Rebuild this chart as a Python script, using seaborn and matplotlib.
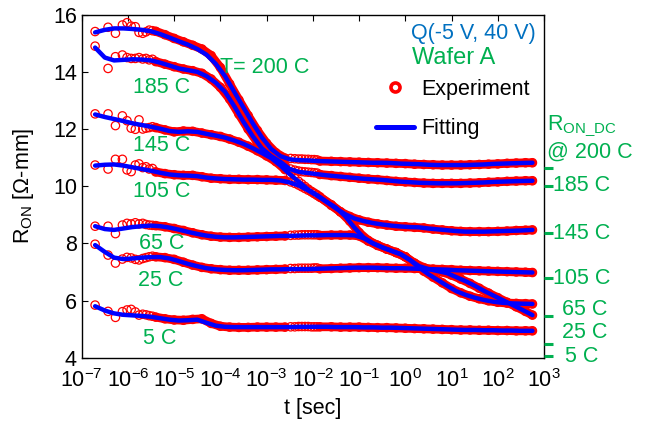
import numpy as np
import pandas as pd
import matplotlib
matplotlib.use("Agg")
import matplotlib.pyplot as plt
import matplotlib.ticker as mticker
from matplotlib.lines import Line2D
import seaborn as sns

# ---------------------------------------------------------------- data
TEMPS = ["200", "185", "145", "105", "65", "25", "5"]

# fitted recovery transients, log10(t / s) grid
LOG_T_FIT = [-6.71, -6.5, -6.3, -6.1, -5.9, -5.7, -5.5, -5.3, -5.1, -4.9, -4.7, -4.5,
             -4.3, -4.1, -3.9, -3.7, -3.5, -3.3, -3.1, -2.9, -2.7, -2.5, -2.3, -2.1,
             -1.9, -1.7, -1.5, -1.3, -1.1, -0.9, -0.7, -0.5, -0.3, -0.1, 0.1, 0.3,
             0.5, 0.7, 0.9, 1.1, 1.3, 1.5, 1.7, 1.9, 2.1, 2.3, 2.5, 2.75]
FIT_200 = [15.38, 15.47, 15.52, 15.52, 15.50, 15.47, 15.42, 15.32, 15.20, 15.07, 14.95, 14.80,
           14.60, 14.28, 13.85, 13.30, 12.75, 12.20, 11.70, 11.30, 11.05, 10.94, 10.91, 10.90,
           10.88, 10.87, 10.86, 10.85, 10.84, 10.83, 10.82, 10.82, 10.81, 10.79, 10.78, 10.77,
           10.75, 10.74, 10.74, 10.74, 10.74, 10.75, 10.76, 10.78, 10.79, 10.80, 10.81, 10.82]
FIT_185 = [14.85, 14.50, 14.40, 14.42, 14.44, 14.43, 14.40, 14.32, 14.22, 14.12, 14.06, 14.00,
           13.85, 13.62, 13.30, 12.80, 12.25, 11.75, 11.32, 11.05, 10.85, 10.60, 10.50, 10.46,
           10.42, 10.38, 10.35, 10.32, 10.29, 10.26, 10.24, 10.22, 10.19, 10.16, 10.14, 10.12,
           10.11, 10.10, 10.10, 10.10, 10.11, 10.12, 10.13, 10.15, 10.16, 10.17, 10.18, 10.19]
FIT_145 = [12.51, 12.42, 12.35, 12.28, 12.20, 12.14, 12.08, 12.01, 11.93, 11.90, 11.92, 11.90,
           11.83, 11.77, 11.70, 11.60, 11.48, 11.33, 11.16, 10.98, 10.72, 10.42, 10.15, 9.88,
           9.68, 9.45, 9.22, 9.02, 8.87, 8.78, 8.71, 8.66, 8.62, 8.59, 8.57, 8.56,
           8.52, 8.49, 8.46, 8.43, 8.41, 8.41, 8.41, 8.42, 8.43, 8.44, 8.45, 8.47]
FIT_105 = [10.72, 10.75, 10.76, 10.72, 10.66, 10.60, 10.54, 10.47, 10.41, 10.38, 10.37, 10.35,
           10.30, 10.27, 10.25, 10.24, 10.23, 10.23, 10.22, 10.22, 10.20, 10.13, 10.02, 9.85,
           9.66, 9.45, 9.25, 8.95, 8.55, 8.20, 8.00, 7.86, 7.74, 7.62, 7.42, 7.15,
           6.92, 6.72, 6.52, 6.33, 6.20, 6.10, 6.02, 5.96, 5.92, 5.90, 5.89, 5.88]
FIT_65 = [8.60, 8.50, 8.47, 8.52, 8.57, 8.60, 8.62, 8.60, 8.55, 8.48, 8.40, 8.33,
          8.27, 8.23, 8.21, 8.21, 8.22, 8.23, 8.24, 8.25, 8.26, 8.26, 8.27, 8.28,
          8.28, 8.29, 8.29, 8.29, 8.28, 8.18, 8.00, 7.86, 7.74, 7.62, 7.42, 7.20,
          7.10, 7.03, 6.96, 6.82, 6.68, 6.52, 6.34, 6.18, 6.02, 5.86, 5.70, 5.49]
FIT_25 = [7.94, 7.70, 7.50, 7.45, 7.47, 7.50, 7.52, 7.52, 7.47, 7.38, 7.28, 7.20,
          7.13, 7.09, 7.07, 7.06, 7.06, 7.07, 7.08, 7.09, 7.09, 7.10, 7.10, 7.10,
          7.11, 7.12, 7.13, 7.14, 7.15, 7.15, 7.15, 7.14, 7.13, 7.13, 7.12, 7.11,
          7.10, 7.09, 7.08, 7.06, 7.05, 7.04, 7.03, 7.02, 7.01, 7.00, 6.99, 6.98]
FIT_5 = [5.80, 5.65, 5.55, 5.50, 5.48, 5.46, 5.43, 5.38, 5.33, 5.30, 5.31, 5.33,
         5.22, 5.12, 5.08, 5.07, 5.07, 5.07, 5.07, 5.07, 5.07, 5.07, 5.08, 5.08,
         5.08, 5.08, 5.07, 5.07, 5.07, 5.06, 5.06, 5.05, 5.05, 5.04, 5.03, 5.02,
         5.01, 5.00, 4.99, 4.98, 4.97, 4.97, 4.96, 4.96, 4.95, 4.95, 4.94, 4.94]

# measured transients: sparse first samples
LOG_T_EXP_EARLY = [-6.71, -6.43, -6.27, -6.12, -6.02, -5.93, -5.84, -5.76, -5.68, -5.61, -5.54, -5.47]
EXP_EARLY_200 = [15.41, 15.56, 15.35, 15.64, 15.72, 15.60, 15.58, 15.38, 15.35, 15.40, 15.46, 15.44]
EXP_EARLY_185 = [14.90, 14.12, 14.53, 14.59, 14.50, 14.47, 14.47, 14.50, 14.45, 14.47, 14.42, 14.44]
EXP_EARLY_145 = [12.53, 12.53, 12.12, 12.46, 12.29, 12.03, 11.99, 12.32, 12.00, 12.03, 12.05, 12.08]
EXP_EARLY_105 = [10.74, 10.60, 10.94, 10.94, 10.57, 10.51, 10.74, 10.78, 10.65, 10.68, 10.60, 10.62]
EXP_EARLY_65 = [8.60, 8.60, 8.34, 8.64, 8.70, 8.68, 8.72, 8.68, 8.70, 8.66, 8.64, 8.63]
EXP_EARLY_25 = [7.97, 7.59, 7.31, 7.45, 7.51, 7.49, 7.44, 7.42, 7.47, 7.50, 7.53, 7.55]
EXP_EARLY_5 = [5.84, 5.62, 5.41, 5.61, 5.67, 5.69, 5.60, 5.49, 5.52, 5.50, 5.47, 5.45]

# measured transients: first dense record
LOG_T_EXP_D1 = [-5.4, -5.2, -5.0, -4.8, -4.6, -4.4, -4.2, -4.0, -3.8, -3.6, -3.4, -3.2, -3.0, -2.8, -2.6]
EXP_D1_200 = [15.42, 15.30, 15.17, 15.05, 14.93, 14.80, 14.57, 14.15, 13.58, 13.02, 12.47, 11.95, 11.50, 11.17, 10.98]
EXP_D1_185 = [14.36, 14.27, 14.18, 14.10, 14.04, 13.95, 13.75, 13.46, 13.05, 12.52, 12.00, 11.53, 11.18, 10.95, 10.72]
EXP_D1_145 = [12.05, 11.97, 11.90, 11.93, 11.92, 11.86, 11.80, 11.74, 11.65, 11.54, 11.40, 11.24, 11.06, 10.86, 10.58]
EXP_D1_105 = [10.50, 10.44, 10.40, 10.38, 10.38, 10.33, 10.28, 10.26, 10.24, 10.24, 10.23, 10.23, 10.22, 10.21, 10.20]
EXP_D1_65 = [8.62, 8.58, 8.52, 8.45, 8.37, 8.30, 8.25, 8.22, 8.21, 8.21, 8.22, 8.23, 8.24, 8.25, 8.26]
EXP_D1_25 = [7.53, 7.50, 7.44, 7.34, 7.24, 7.16, 7.11, 7.08, 7.06, 7.06, 7.06, 7.07, 7.08, 7.09, 7.10]
EXP_D1_5 = [5.42, 5.36, 5.32, 5.31, 5.34, 5.36, 5.20, 5.10, 5.07, 5.06, 5.06, 5.07, 5.07, 5.07, 5.07]

# measured transients: sparse samples between the two records
LOG_T_EXP_MID = [-2.48, -2.39, -2.31, -2.24, -2.17, -2.10, -2.03, -1.97, -1.91]
EXP_MID_200 = [10.97, 10.96, 10.95, 10.95, 10.94, 10.94, 10.93, 10.93, 10.92]
EXP_MID_185 = [10.60, 10.56, 10.53, 10.51, 10.50, 10.49, 10.48, 10.47, 10.46]
EXP_MID_145 = [10.40, 10.28, 10.17, 10.08, 9.99, 9.90, 9.82, 9.76, 9.70]
EXP_MID_105 = [10.15, 10.10, 10.04, 9.98, 9.92, 9.86, 9.80, 9.74, 9.68]
EXP_MID_65 = [8.28, 8.29, 8.29, 8.30, 8.30, 8.30, 8.30, 8.30, 8.30]
EXP_MID_25 = [7.12, 7.12, 7.13, 7.13, 7.13, 7.13, 7.13, 7.14, 7.14]
EXP_MID_5 = [5.08, 5.08, 5.09, 5.09, 5.09, 5.09, 5.08, 5.08, 5.08]

# measured transients: second dense record
LOG_T_EXP_D2 = [-1.85, -1.6, -1.4, -1.2, -1.0, -0.8, -0.6, -0.4, -0.2, 0.0, 0.2, 0.4,
                0.6, 0.8, 1.0, 1.2, 1.4, 1.6, 1.8, 2.0, 2.2, 2.4, 2.6, 2.75]
EXP_D2_200 = [10.88, 10.87, 10.86, 10.85, 10.84, 10.83, 10.82, 10.81, 10.80, 10.79, 10.77, 10.76,
              10.75, 10.74, 10.74, 10.74, 10.75, 10.76, 10.77, 10.78, 10.80, 10.81, 10.82, 10.82]
EXP_D2_185 = [10.41, 10.37, 10.34, 10.31, 10.28, 10.25, 10.23, 10.20, 10.17, 10.15, 10.13, 10.11,
              10.10, 10.10, 10.10, 10.10, 10.11, 10.12, 10.14, 10.15, 10.17, 10.18, 10.19, 10.19]
EXP_D2_145 = [9.63, 9.33, 9.10, 8.94, 8.82, 8.74, 8.68, 8.64, 8.60, 8.58, 8.56, 8.54,
              8.50, 8.47, 8.44, 8.42, 8.41, 8.41, 8.41, 8.42, 8.43, 8.45, 8.46, 8.47]
EXP_D2_105 = [9.62, 9.35, 9.10, 8.78, 8.38, 8.10, 7.93, 7.80, 7.68, 7.53, 7.28, 7.03,
              6.82, 6.62, 6.42, 6.27, 6.15, 6.06, 5.99, 5.94, 5.91, 5.90, 5.89, 5.88]
EXP_D2_65 = [8.28, 8.29, 8.29, 8.29, 8.26, 8.08, 7.93, 7.80, 7.68, 7.53, 7.31, 7.15,
             7.07, 7.00, 6.89, 6.75, 6.60, 6.43, 6.26, 6.10, 5.94, 5.78, 5.62, 5.49]
EXP_D2_25 = [7.11, 7.12, 7.13, 7.14, 7.15, 7.15, 7.15, 7.14, 7.13, 7.13, 7.12, 7.11,
             7.10, 7.09, 7.08, 7.06, 7.05, 7.04, 7.03, 7.02, 7.01, 7.00, 6.99, 6.98]
EXP_D2_5 = [5.08, 5.08, 5.07, 5.07, 5.07, 5.06, 5.05, 5.05, 5.04, 5.03, 5.02, 5.01,
            5.00, 4.99, 4.98, 4.97, 4.97, 4.96, 4.96, 4.95, 4.95, 4.94, 4.94, 4.94]

# DC on-resistance markers on the right axis
DC_LABELS = ["200 C", "185 C", "145 C", "105 C", "65 C", "25 C", "5 C"]
DC_VALUES = [10.63, 10.02, 8.35, 6.78, 5.46, 4.48, 4.07]

X_TICK_EXPONENTS = list(range(-7, 4))
Y_TICKS = [4, 6, 8, 10, 12, 14, 16]

# ---------------------------------------------------------------- style
RED = "#ff0000"
BLUE = "#0000ff"
GREEN = "#00b050"
TXT_BLUE = "#0070c0"
FS = 15.5

sns.set_style("white", rc={"axes.edgecolor": "black", "axes.linewidth": 1.0,
                           "xtick.color": "black", "ytick.color": "black",
                           "text.color": "black", "axes.labelcolor": "black"})
plt.rcParams["font.family"] = ["Liberation Sans", "DejaVu Sans"]
plt.rcParams["mathtext.fontset"] = "custom"
plt.rcParams["mathtext.rm"] = "Liberation Sans"
plt.rcParams["mathtext.it"] = "Liberation Sans:italic"
plt.rcParams["mathtext.bf"] = "Liberation Sans:bold"
plt.rcParams["mathtext.default"] = "regular"

# ---------------------------------------------------------------- tables
fits = dict(zip(TEMPS, [FIT_200, FIT_185, FIT_145, FIT_105, FIT_65, FIT_25, FIT_5]))
early = dict(zip(TEMPS, [EXP_EARLY_200, EXP_EARLY_185, EXP_EARLY_145, EXP_EARLY_105,
                         EXP_EARLY_65, EXP_EARLY_25, EXP_EARLY_5]))
dense1 = dict(zip(TEMPS, [EXP_D1_200, EXP_D1_185, EXP_D1_145, EXP_D1_105,
                          EXP_D1_65, EXP_D1_25, EXP_D1_5]))
mid = dict(zip(TEMPS, [EXP_MID_200, EXP_MID_185, EXP_MID_145, EXP_MID_105,
                       EXP_MID_65, EXP_MID_25, EXP_MID_5]))
dense2 = dict(zip(TEMPS, [EXP_D2_200, EXP_D2_185, EXP_D2_145, EXP_D2_105,
                          EXP_D2_65, EXP_D2_25, EXP_D2_5]))


def frame(log_t, values, key):
    return pd.DataFrame({"t": 10.0 ** np.asarray(log_t), "R": values, "key": key})


fit_df = pd.concat([frame(LOG_T_FIT, fits[k], k) for k in TEMPS], ignore_index=True)
band_df = pd.concat([frame(LOG_T_EXP_D1, dense1[k], k + "/1") for k in TEMPS]
                    + [frame(LOG_T_EXP_D2, dense2[k], k + "/2") for k in TEMPS],
                    ignore_index=True)
pts_df = pd.concat([frame(LOG_T_EXP_EARLY, early[k], k) for k in TEMPS]
                   + [frame(LOG_T_EXP_D1, dense1[k], k) for k in TEMPS]
                   + [frame(LOG_T_EXP_MID, mid[k], k) for k in TEMPS]
                   + [frame(LOG_T_EXP_D2, dense2[k], k) for k in TEMPS],
                   ignore_index=True)

# ---------------------------------------------------------------- figure
fig = plt.figure(figsize=(6.5, 4.21), dpi=100)
ax = fig.add_axes([0.1257, 0.1504, 0.7112, 0.8147])
ax.set_xscale("log")

# dense measurement records appear as a continuous band of circles
sns.lineplot(data=band_df, x="t", y="R", hue="key",
             palette={k: RED for k in band_df["key"].unique()},
             estimator=None, sort=False, legend=False, lw=6.3,
             solid_capstyle="round", solid_joinstyle="round", zorder=2, ax=ax)
sns.scatterplot(data=pts_df, x="t", y="R", marker="o", s=36, color=RED,
                facecolor="none", edgecolor=RED, linewidth=0.9,
                legend=False, zorder=2.5, ax=ax)
sns.lineplot(data=fit_df, x="t", y="R", hue="key",
             palette={k: BLUE for k in TEMPS},
             estimator=None, sort=False, legend=False, lw=3.2,
             solid_capstyle="round", zorder=3, ax=ax)

ax.set_xlim(1e-7, 1e3)
ax.set_ylim(4, 16)
ax.xaxis.set_major_locator(mticker.FixedLocator([10.0 ** e for e in X_TICK_EXPONENTS]))
ax.xaxis.set_major_formatter(mticker.FixedFormatter(
    [r"$10^{%d}$" % e for e in X_TICK_EXPONENTS]))
ax.xaxis.set_minor_locator(mticker.NullLocator())
ax.set_yticks(Y_TICKS)
ax.set_yticklabels([str(v) for v in Y_TICKS])
ax.tick_params(axis="both", which="major", direction="in", top=True, right=True,
               length=4.3, width=0.8, labelsize=FS)
ax.tick_params(axis="x", pad=8.5)
ax.tick_params(axis="y", pad=3.4)
for s in ax.spines.values():
    s.set_visible(True)
    s.set_color("black")
    s.set_linewidth(1.0)

ax.set_xlabel("t [sec]", fontsize=FS)
ax.set_ylabel(r"R$_{\mathrm{ON}}$ [Ω-mm]", fontsize=FS)
ax.xaxis.set_label_coords(0.5, -0.118)
ax.yaxis.set_label_coords(-0.098, 0.5)

# green DC markers on the right edge
ax2 = ax.twinx()
ax2.set_ylim(ax.get_ylim())
ax2.set_yticks(DC_VALUES)
ax2.set_yticklabels([])
ax2.tick_params(axis="y", direction="out", length=6.5, width=2.2, color=GREEN, right=True)
for s in ax2.spines.values():
    s.set_visible(False)
ax2.grid(False)

ytrans = ax.get_yaxis_transform()
label_x = [1.0195, 1.0195, 1.0195, 1.039, 1.039, 1.046]
label_y = [DC_VALUES[1], DC_VALUES[2], DC_VALUES[3], 5.69, 4.89, 4.03]
for txt, xx, yy in zip(DC_LABELS[1:], label_x, label_y):
    ax.text(xx, yy, txt, transform=ytrans, ha="left", va="center",
            color=GREEN, fontsize=FS, clip_on=False)
ax.text(1.0067, 12.08, r"R$_{\mathrm{ON\_DC}}$", transform=ytrans, ha="left",
        va="center", color=GREEN, fontsize=FS, clip_on=False)
ax.text(1.0067, 11.20, "@ " + DC_LABELS[0], transform=ytrans, ha="left",
        va="center", color=GREEN, fontsize=FS, clip_on=False)

# temperature labels next to each transient
curve_labels = [("T= 200 C", -4.013, 14.14), ("185 C", -5.89, 13.44),
                ("145 C", -5.89, 11.41), ("105 C", -5.89, 9.80),
                ("65 C", -5.76, 8.01), ("25 C", -5.78, 6.70), ("5 C", -5.68, 4.67)]
for txt, lx, ly in curve_labels:
    ax.text(10.0 ** lx, ly, txt, ha="left", va="center", color=GREEN, fontsize=FS)

ax.text(0.9827, 0.9466, "Q(-5 V, 40 V)", transform=ax.transAxes, ha="right",
        va="center", color=TXT_BLUE, fontsize=FS)
ax.text(0.8055, 0.8738, "Wafer A", transform=ax.transAxes, ha="center",
        va="center", color=GREEN, fontsize=17)

handles = [Line2D([], [], marker="o", ls="", mfc="none", mec=RED, mew=2.6, ms=6.5),
           Line2D([], [], color=BLUE, lw=3.6)]
ax.legend(handles, ["Experiment", "Fitting"], loc="upper left",
          bbox_to_anchor=(0.6366, 0.8125), frameon=False, fontsize=FS,
          handlelength=1.75, handletextpad=0.35, labelspacing=0.85,
          borderpad=0, borderaxespad=0)

fig.savefig("out.png", dpi=100)
